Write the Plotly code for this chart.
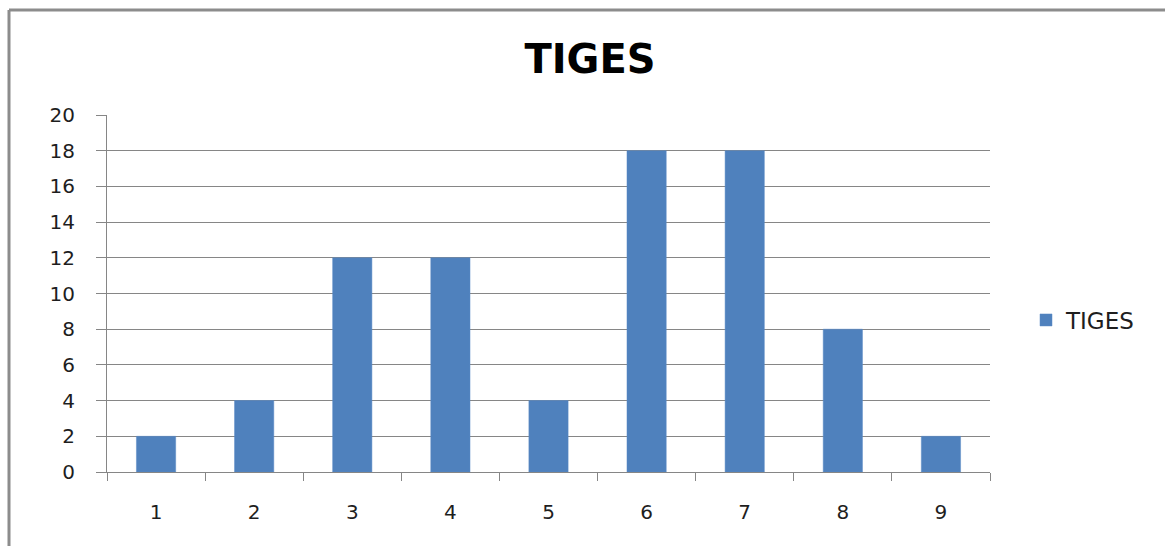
import plotly.graph_objects as go

# Stem counts per class
categories = ["1", "2", "3", "4", "5", "6", "7", "8", "9"]
tiges = [2, 4, 12, 12, 4, 18, 18, 8, 2]
y_ticks = [0, 2, 4, 6, 8, 10, 12, 14, 16, 18, 20]

W, H = 1165, 546
ML, MR, MT, MB = 107, 175, 115, 74
PW, PH = W - ML - MR, H - MT - MB


def px_x(x):
    return (x - ML) / PW


def px_y(y):
    return (H - MB - y) / PH


font = "DejaVu Sans, Open Sans, sans-serif"
text_color = "#1E1E1E"

fig = go.Figure()
fig.add_trace(go.Bar(
    x=categories,
    y=tiges,
    name="TIGES",
    marker=dict(color="#4F81BD", line=dict(color="#5A8AC6", width=0.5)),
    showlegend=True,
))

fig.update_layout(
    width=W,
    height=H,
    margin=dict(l=ML, r=MR, t=MT, b=MB),
    paper_bgcolor="white",
    plot_bgcolor="white",
    bargap=0.6,
    title=dict(
        text="<b>TIGES</b>",
        x=px_x(590), xref="paper", xanchor="center",
        y=1 - 59 / H, yanchor="middle",
        font=dict(family=font, size=40, color="#000000"),
    ),
    showlegend=True,
    legend=dict(
        x=px_x(1026), y=px_y(320), xanchor="left", yanchor="middle",
        font=dict(family=font, size=23, color=text_color),
        bgcolor="rgba(0,0,0,0)",
        itemwidth=30,
    ),
    xaxis=dict(
        type="category",
        tickson="boundaries",
        ticks="outside",
        ticklen=8,
        tickcolor="#868686",
        showline=True,
        linecolor="#868686",
        linewidth=1,
        showgrid=False,
        tickfont=dict(family=font, size=20, color=text_color),
        ticklabelstandoff=22,
    ),
    yaxis=dict(
        range=[0, 20],
        tickvals=y_ticks,
        ticks="outside",
        ticklen=10,
        tickcolor="#868686",
        showline=True,
        linecolor="#868686",
        linewidth=1,
        showgrid=True,
        gridcolor="#868686",
        gridwidth=1,
        zeroline=False,
        tickfont=dict(family=font, size=20, color=text_color),
        ticklabelstandoff=17,
    ),
    shapes=[
        # chart-area frame (top and left edges)
        dict(type="line", xref="paper", yref="paper",
             x0=px_x(9), x1=px_x(1166), y0=px_y(10), y1=px_y(10),
             line=dict(color="#8C8C8C", width=3)),
        dict(type="line", xref="paper", yref="paper",
             x0=px_x(9), x1=px_x(9), y0=px_y(10), y1=px_y(547),
             line=dict(color="#8C8C8C", width=3)),
    ],
)

fig.write_html("out.html")
